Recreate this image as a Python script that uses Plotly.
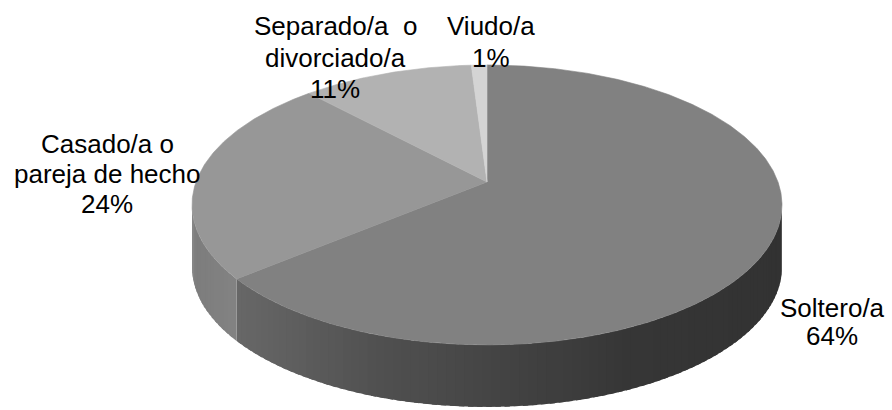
import math
import numpy as np
import plotly.graph_objects as go

# ---- data ----
categories = ["Soltero/a", "Casado/a o pareja de hecho", "Separado/a o divorciado/a", "Viudo/a"]
values = [64, 24, 11, 1]
label_lines = [["Soltero/a"], ["Casado/a o", "pareja de hecho"], ["Separado/a\u00a0 o", "divorciado/a"], ["Viudo/a"]]

# ---- styling / geometry ----
W, H = 892, 410
CX, CY = 487, 182          # apex of the pie on screen
S, SH, K = 291, 136.2, 0.164   # horizontal radius, vertical scale, perspective factor
DEPTH = 62
top_colors = ["#818181", "#979797", "#b2b2b2", "#d4d4d4"]
# side shading (x position -> gray level)
side_x = [190, 233, 380, 480, 630, 790]
side_g_by_slice = {
    0: [106, 104, 80, 70, 54, 50],
    1: [124, 130, 130, 130, 130, 130],
}
label_font = dict(family="Arial, Liberation Sans, sans-serif", size=26, color="black")
label_anchor = [(832, [317, 345]), (107, [153, 183, 213]), (335, [35, 67, 98]), (491, [35, 67])]


def proj(theta_deg, drop=0.0):
    t = np.radians(theta_deg)
    u, v = np.sin(t), np.cos(t)
    w = 1 + K * v
    return CX + S * u / w, CY - SH * v / w + drop


fig = go.Figure()

total = float(sum(values))
bounds = [0.0]
for v in values:
    bounds.append(bounds[-1] + 360.0 * v / total)

theta_r = math.degrees(math.acos(-K))
vis_lo, vis_hi = theta_r, 360 - theta_r

# sides (front visible portion), drawn as overlapping shaded strips
for i in range(len(values)):
    a, b = max(bounds[i], vis_lo), min(bounds[i + 1], vis_hi)
    if b <= a:
        continue
    n = max(2, int((b - a) / 1.5))
    edges = np.linspace(a, b, n + 1)
    step = edges[1] - edges[0]
    for j in range(n):
        hi = min(edges[j + 1] + 0.6 * step, b)
        th = np.linspace(edges[j], hi, 5)
        xt, yt = proj(th)
        xb, yb = proj(th[::-1], DEPTH)
        xs = np.concatenate([xt, xb, xt[:1]])
        ys = np.concatenate([yt, yb, yt[:1]])
        xm, _ = proj(0.5 * (edges[j] + edges[j + 1]))
        g = int(round(np.interp(xm, side_x, side_g_by_slice.get(i, [120] * 6))))
        col = f"rgb({g},{g},{g})"
        fig.add_trace(go.Scatter(x=xs, y=ys, mode="lines", fill="toself", fillcolor=col,
                                 line=dict(width=0), hoverinfo="skip", showlegend=False))

# top wedges
for i in range(len(values)):
    th = np.linspace(bounds[i], bounds[i + 1], max(3, int(bounds[i + 1] - bounds[i]) * 2))
    xa, ya = proj(th)
    xs = np.concatenate([[CX], xa, [CX]])
    ys = np.concatenate([[CY], ya, [CY]])
    fig.add_trace(go.Scatter(x=xs, y=ys, mode="lines", fill="toself", fillcolor=top_colors[i],
                             line=dict(color=top_colors[i], width=0.6), hoverinfo="skip",
                             showlegend=False, name=categories[i]))

# labels
annotations = []
for i, lines in enumerate(label_lines):
    cx, baselines = label_anchor[i]
    texts = lines + [f"{values[i]}%"]
    for t, by in zip(texts, baselines):
        annotations.append(dict(x=cx, y=by - 9, text=t, showarrow=False, xref="x", yref="y",
                                xanchor="center", yanchor="middle", font=label_font))

fig.update_layout(
    width=W, height=H, autosize=False,
    margin=dict(l=0, r=0, t=0, b=0),
    paper_bgcolor="white", plot_bgcolor="white",
    xaxis=dict(range=[0, W], visible=False, fixedrange=True),
    yaxis=dict(range=[H, 0], visible=False, fixedrange=True),
    annotations=annotations, showlegend=False, hovermode=False,
)

fig.write_html("out.html", config={"displayModeBar": False},
               post_script="document.body.style.margin='0';")
